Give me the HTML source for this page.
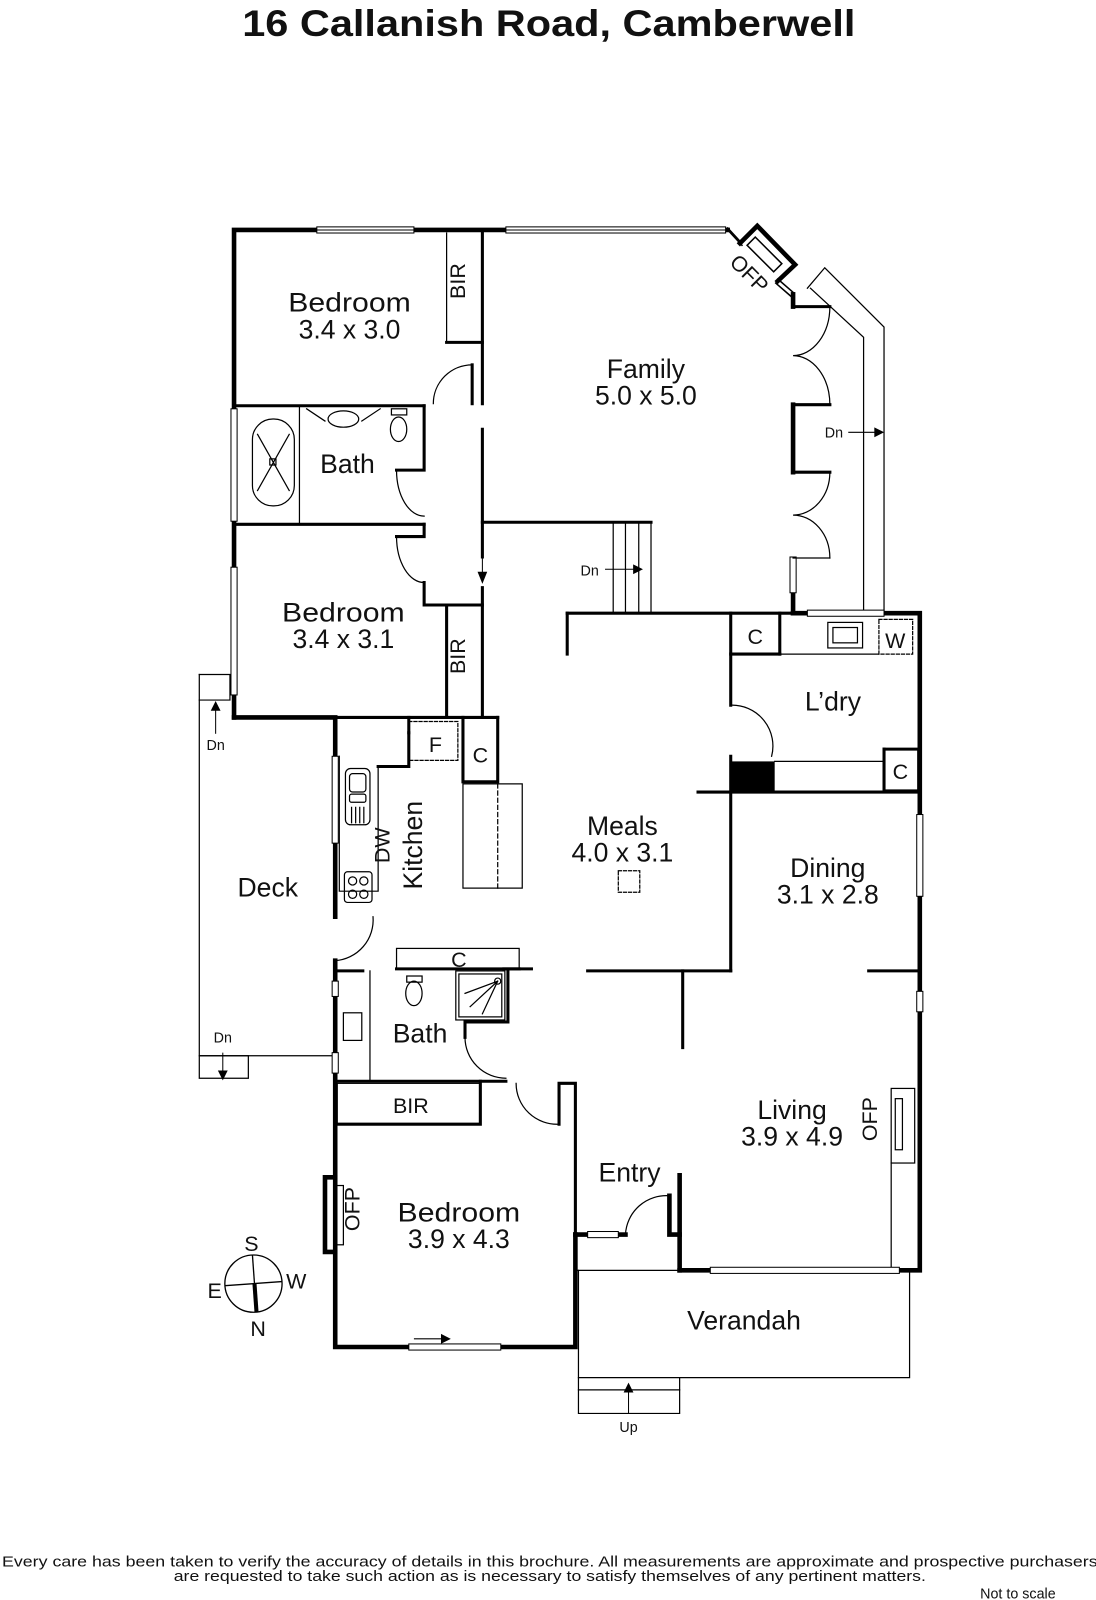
<!DOCTYPE html>
<html><head><meta charset="utf-8"><style>
html,body{margin:0;padding:0;background:#fff;}
svg{display:block;}
text{font-family:"Liberation Sans",sans-serif;fill:#111;}
</style></head><body>
<svg width="1096" height="1600" viewBox="0 0 1096 1600" xmlns="http://www.w3.org/2000/svg">
<g transform="scale(1.022)">
<text x="537" y="35" font-size="36" font-weight="bold" text-anchor="middle" textLength="600" lengthAdjust="spacingAndGlyphs">16 Callanish Road, Camberwell</text>

<g fill="none" stroke="#000" stroke-linecap="square">
<g stroke-width="4.5">
<polyline points="229,702 229,225 712,225"/>
<polyline points="724,238 741,221 778,259 761,275"/>
<polyline points="776,288 776,300"/>
<line x1="776" y1="396" x2="776" y2="462"/>
<line x1="776" y1="580" x2="776" y2="600"/>
<polyline points="776,600 900,600 900,1243 880,1243"/>
<line x1="665" y1="1243" x2="695" y2="1243"/>
<line x1="665" y1="1150" x2="665" y2="1243"/>
<polyline points="229,702 328,702 328,897"/>
<polyline points="328,940 328,1318 400,1318"/>
<polyline points="490,1318 563,1318 563,1208"/>
<polyline points="563,1208 575,1208"/>
<polyline points="605,1208 612,1208"/>
<polyline points="655,1170 655,1208 665,1208"/>
<polyline points="328,1152 318,1152 318,1225 328,1225"/>
</g>
<g stroke-width="1.5">
<line x1="712" y1="223" x2="724" y2="236"/><line x1="714" y1="227" x2="726" y2="240"/>
<line x1="761" y1="273" x2="776" y2="286"/><line x1="759" y1="277" x2="774" y2="290"/>
<polygon points="731,240 739,232 765,258 757,266"/>
</g>
<g stroke-width="3">
<line x1="472" y1="228" x2="472" y2="395"/>
<line x1="472" y1="420" x2="472" y2="545"/>
<line x1="472" y1="575" x2="472" y2="702"/>
<polyline points="437,335 472,335"/>
<line x1="229" y1="397" x2="415" y2="397"/>
<polyline points="415,397 415,460 388,460"/>
<line x1="229" y1="513" x2="415" y2="513"/>
<polyline points="415,513 415,525 388,525"/>
<polyline points="415,570 415,592 472,592"/>
<line x1="437" y1="592" x2="437" y2="702"/>
<line x1="472" y1="511" x2="637" y2="511"/>
<line x1="462" y1="357" x2="462" y2="395"/>
<line x1="776" y1="300" x2="812" y2="300"/>
<line x1="776" y1="396" x2="812" y2="396"/>
<line x1="776" y1="462" x2="812" y2="462"/>
<line x1="555" y1="600" x2="900" y2="600"/>
<line x1="555" y1="600" x2="555" y2="640"/>
<line x1="715" y1="600" x2="715" y2="690"/>
<line x1="715" y1="740" x2="715" y2="950"/>
<line x1="683" y1="775" x2="900" y2="775"/>
<line x1="715" y1="640" x2="763" y2="640"/>
<line x1="763" y1="600" x2="763" y2="640"/>
<line x1="865" y1="733" x2="865" y2="773"/>
<line x1="865" y1="733" x2="900" y2="733"/>
<line x1="328" y1="702" x2="487" y2="702"/>
<polyline points="370,750 400,750 400,717"/>
<line x1="400" y1="702" x2="400" y2="717"/>
<polyline points="453,702 453,765 487,765 487,702"/>
<line x1="575" y1="950" x2="715" y2="950"/>
<line x1="850" y1="950" x2="900" y2="950"/>
<line x1="668" y1="950" x2="668" y2="1025"/>
<line x1="665" y1="1150" x2="665" y2="1170"/>
<line x1="328" y1="950" x2="355" y2="950"/>
<line x1="388" y1="948" x2="508" y2="948"/>
<line x1="493" y1="948" x2="520" y2="948"/>
<line x1="328" y1="1058" x2="495" y2="1058"/>
<polyline points="455,1015 455,1000 497,1000 497,950"/>
<polyline points="470,1058 470,1100 328,1100"/>
<polyline points="547,1100 547,1060 563,1060 563,1208"/>
</g>
<g stroke-width="1.2">
<line x1="437" y1="228" x2="437" y2="335"/>
<line x1="293" y1="397" x2="293" y2="513"/>
<polyline points="790,282 807,262 865,320 865,600"/>
<polyline points="793,282 845,330 845,600"/>
<line x1="600" y1="511" x2="600" y2="600"/>
<line x1="612" y1="511" x2="612" y2="600"/>
<line x1="625" y1="511" x2="625" y2="600"/>
<line x1="637" y1="511" x2="637" y2="600"/>
<rect x="715" y="600" width="48" height="40"/>
<line x1="763" y1="640" x2="860" y2="640"/>
<rect x="810" y="609" width="34" height="25"/>
<rect x="815" y="614" width="24" height="15"/>
<rect x="860" y="606" width="33" height="34" stroke-dasharray="3,2"/>
<line x1="758" y1="745" x2="865" y2="745"/>
<rect x="865" y="733" width="33" height="40"/>
<polyline points="195,660 195,1055 243,1055 243,1033 195,1033"/>
<line x1="195" y1="1033" x2="328" y2="1033"/>
<polyline points="195,660 225,660 225,685 195,685"/>
<polyline points="332,740 332,872 370,872 370,750"/>
<rect x="400" y="706" width="48" height="38" stroke-dasharray="3,2"/>
<rect x="453" y="767" width="58" height="102"/>
<line x1="487" y1="767" x2="487" y2="869" stroke-dasharray="4,3"/>
<rect x="605" y="852" width="21" height="21" stroke-dasharray="3,2"/>
<rect x="388" y="928" width="120" height="20"/>
<line x1="362" y1="950" x2="362" y2="1058"/>
<rect x="336" y="991" width="18" height="27"/>
<rect x="446" y="950" width="48" height="48"/>
<rect x="449" y="953" width="42" height="42"/>
<path d="M487,960 L455,972 M487,960 L460,985 M487,960 L472,992"/>
<circle cx="487" cy="960" r="3"/>
<rect x="330" y="1060" width="140" height="40"/>
<rect x="328" y="1160" width="8" height="58"/>
<rect x="872" y="1065" width="23" height="73"/>
<rect x="876" y="1075" width="7" height="50"/>
<line x1="872" y1="1138" x2="872" y2="1243"/>
<polyline points="566,1243 566,1348 890,1348 890,1243"/>
<polyline points="566,1348 566,1383 665,1383 665,1348"/>
<line x1="566" y1="1360" x2="665" y2="1360"/>
<line x1="565" y1="1243" x2="665" y2="1243"/>
</g>
<g stroke-width="1">
<rect x="310" y="222" width="95" height="6" fill="#fff"/>
<line x1="310" y1="225" x2="405" y2="225"/>
<rect x="495" y="222" width="215" height="6" fill="#fff"/>
<line x1="495" y1="225" x2="710" y2="225"/>
<rect x="226" y="400" width="6" height="110" fill="#fff"/>
<rect x="226" y="555" width="6" height="125" fill="#fff"/>
<rect x="325" y="740" width="6" height="85" fill="#fff"/>
<rect x="325" y="960" width="6" height="15" fill="#fff"/>
<rect x="325" y="1030" width="6" height="20" fill="#fff"/>
<rect x="773" y="545" width="6" height="35" fill="#fff"/>
<rect x="790" y="597" width="75" height="6" fill="#fff"/>
<rect x="897" y="797" width="6" height="80" fill="#fff"/>
<rect x="897" y="970" width="6" height="20" fill="#fff"/>
<rect x="695" y="1240" width="185" height="6" fill="#fff"/>
<rect x="400" y="1315" width="90" height="6" fill="#fff"/>
<rect x="575" y="1205" width="30" height="6" fill="#fff"/>
</g>
<g stroke-width="1.2">
<path d="M462,357 A38,38 0 0 0 424,395"/>
<path d="M388,460 A27,45 0 0 0 415,505"/>
<path d="M388,525 A27,45 0 0 0 415,570"/>
<path d="M812,300 A36,48 0 0 1 776,348 A36,48 0 0 1 812,396"/>
<path d="M812,462 A36,42 0 0 1 776,504 A36,42 0 0 1 812,546"/>
<line x1="776" y1="546" x2="812" y2="546"/>
<path d="M715,690 A40,40 0 0 1 755,740"/>
<path d="M365,897 A40,40 0 0 1 328,940"/>
<path d="M455,1015 A40,40 0 0 0 495,1055"/>
<path d="M505,1060 A40,40 0 0 0 547,1100"/>
<path d="M612,1208 A40,40 0 0 1 655,1170"/>
<rect x="247" y="410" width="41" height="85" rx="20"/>
<path d="M252,425 L283,480 M283,425 L252,480"/>
<rect x="264" y="449" width="6" height="6"/>
<path d="M300,400 L318,412 M372,400 L354,412"/>
<ellipse cx="336" cy="410" rx="15" ry="8"/>
<rect x="383" y="400" width="15" height="6"/>
<ellipse cx="390" cy="420" rx="8" ry="12"/>
<rect x="398" y="955" width="15" height="6"/>
<ellipse cx="405" cy="972" rx="8" ry="12"/>
<rect x="338" y="752" width="24" height="55" rx="5"/>
<rect x="342" y="757" width="16" height="18" rx="3"/>
<rect x="342" y="777" width="16" height="8" rx="2"/>
<path d="M344,790 V805 M348,790 V805 M352,790 V805 M356,790 V805"/>
<rect x="337" y="853" width="27" height="30" rx="3"/>
<circle cx="345" cy="862" r="4"/><circle cx="356" cy="862" r="4"/>
<circle cx="345" cy="875" r="4"/><circle cx="356" cy="875" r="4"/>
</g>
</g>
<rect x="715" y="745" width="43" height="30" fill="#000"/>
<g stroke="#000" stroke-width="1" fill="#000">
<line x1="472" y1="520" x2="472" y2="560"/><path d="M468,560 L476,560 L472,570 Z"/>
<line x1="592" y1="557" x2="620" y2="557"/><path d="M620,553 L628,557 L620,561 Z"/>
<line x1="830" y1="423" x2="856" y2="423"/><path d="M856,419 L864,423 L856,427 Z"/>
<line x1="211" y1="695" x2="211" y2="718"/><path d="M207,695 L211,687 L215,695 Z"/>
<line x1="218" y1="1030" x2="218" y2="1050"/><path d="M214,1048 L218,1056 L222,1048 Z"/>
<line x1="615" y1="1362" x2="615" y2="1383"/><path d="M611,1362 L615,1354 L619,1362 Z"/>
<line x1="405" y1="1310" x2="432" y2="1310"/><path d="M432,1306 L440,1310 L432,1314 Z"/>
</g>
<g stroke="#000" fill="none">
<circle cx="248" cy="1256" r="28" stroke-width="1.3"/>
<line x1="220" y1="1258" x2="276" y2="1254" stroke-width="1.3"/>
<line x1="247" y1="1228" x2="249" y2="1256" stroke-width="1.3"/>
<line x1="249" y1="1256" x2="251" y2="1284" stroke-width="4"/>
</g>
<g font-size="21">
<text x="239" y="1224">S</text><text x="203" y="1270">E</text><text x="280" y="1261">W</text><text x="245" y="1307">N</text>
</g>
<g font-size="26" text-anchor="middle">
<text x="342" y="305" textLength="120" lengthAdjust="spacingAndGlyphs">Bedroom</text><text x="342" y="331">3.4 x 3.0</text>
<text x="632" y="370">Family</text><text x="632" y="396">5.0 x 5.0</text>
<text x="340" y="463">Bath</text>
<text x="336" y="608" textLength="120" lengthAdjust="spacingAndGlyphs">Bedroom</text><text x="336" y="634">3.4 x 3.1</text>
<text x="815" y="695">L’dry</text>
<text x="609" y="817">Meals</text><text x="609" y="843">4.0 x 3.1</text>
<text x="810" y="858">Dining</text><text x="810" y="884">3.1 x 2.8</text>
<text x="262" y="877">Deck</text>
<text x="411" y="1020">Bath</text>
<text x="775" y="1095">Living</text><text x="775" y="1121">3.9 x 4.9</text>
<text x="616" y="1156">Entry</text>
<text x="449" y="1195" textLength="120" lengthAdjust="spacingAndGlyphs">Bedroom</text><text x="449" y="1221">3.9 x 4.3</text>
<text x="728" y="1301">Verandah</text>
<text x="423" y="837" transform="rotate(-90 413 837)">Kitchen</text>
</g>
<g font-size="21" text-anchor="middle">
<text x="462" y="282" transform="rotate(-90 455 282)">BIR</text>
<text x="462" y="649" transform="rotate(-90 455 649)">BIR</text>
<text x="402" y="1089">BIR</text>
<text x="739" y="630">C</text>
<text x="876" y="634">W</text>
<text x="426" y="736">F</text>
<text x="470" y="746">C</text>
<text x="881" y="762">C</text>
<text x="449" y="946">C</text>
<text x="389" y="835" transform="rotate(-90 381 835)">DW</text>
<text x="359" y="1190" transform="rotate(-90 352 1190)">OFP</text>
<text x="865" y="1102" transform="rotate(-90 858 1102)">OFP</text>
<text x="733" y="275" transform="rotate(45 733 268)">OFP</text>
</g>
<g font-size="14" text-anchor="middle">
<text x="816" y="428">Dn</text>
<text x="577" y="563">Dn</text>
<text x="211" y="734">Dn</text>
<text x="218" y="1020">Dn</text>
<text x="615" y="1401">Up</text>
</g>
<g font-size="14">
<text x="2" y="1533" textLength="1072" lengthAdjust="spacingAndGlyphs">Every care has been taken to verify the accuracy of details in this brochure.  All measurements are approximate and prospective purchasers</text>
<text x="538" y="1547" text-anchor="middle" textLength="736" lengthAdjust="spacingAndGlyphs">are requested to take such action as is necessary to satisfy themselves of any pertinent matters.</text>
<text x="996" y="1564" text-anchor="middle">Not to scale</text>
</g>
</g>
</svg>
</body></html>
